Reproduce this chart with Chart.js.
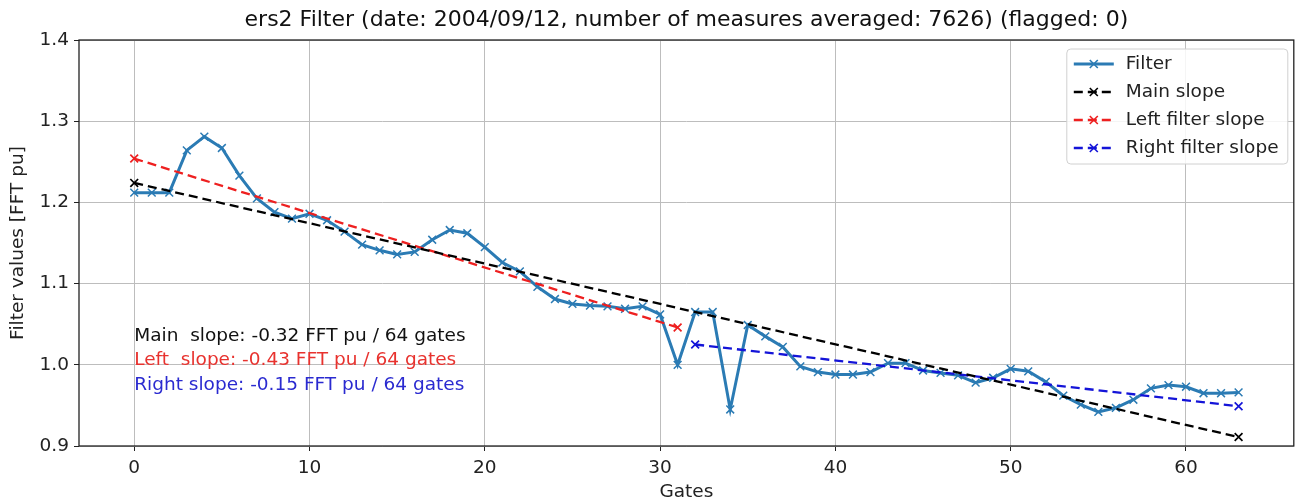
<html>
<head>
    <meta http-equiv="Content-Type" content="text/html; charset=utf-8"/>
    <title>ers2 Filter</title>
    <style>
        body { margin: 0; background: #ffffff; }
    </style>
</head>
<body>
    <canvas id="filtr" width="1301" height="504"></canvas>
</body>

<script src="https://cdn.jsdelivr.net/npm/chart.js@4/dist/chart.umd.min.js"></script>
<script type="text/javascript">

// gates 0..63
gates = [0,1,2,3,4,5,6,7,8,9,10,11,12,13,14,15,16,17,18,19,20,21,22,23,24,25,26,27,28,29,30,31,
         32,33,34,35,36,37,38,39,40,41,42,43,44,45,46,47,48,49,50,51,52,53,54,55,56,57,58,59,60,61,62,63]

filterVals = [1.212,1.212,1.212,1.264,1.281,1.267,1.233,1.205,1.188,1.180,
              1.186,1.178,1.164,1.148,1.141,1.136,1.139,1.154,1.166,1.162,
              1.145,1.126,1.115,1.096,1.081,1.075,1.073,1.072,1.069,1.072,
              1.062,1.000,1.065,1.065,0.945,1.049,1.035,1.022,0.998,0.991,
              0.988,0.988,0.991,1.002,1.002,0.993,0.990,0.987,0.978,0.984,
              0.995,0.992,0.979,0.962,0.951,0.942,0.947,0.957,0.971,0.975,
              0.973,0.965,0.965,0.966]

mainSlopeX = [0, 63]
mainSlopeY = [1.224, 0.911]
leftSlopeX = [0, 31]
leftSlopeY = [1.254, 1.046]
rightSlopeX = [32, 63]
rightSlopeY = [1.025, 0.949]

xTicks = [0, 10, 20, 30, 40, 50, 60]
yTicks = [0.9, 1.0, 1.1, 1.2, 1.3, 1.4]

slopeTexts = ["Main  slope: -0.32 FFT pu / 64 gates",
              "Left  slope: -0.43 FFT pu / 64 gates",
              "Right slope: -0.15 FFT pu / 64 gates"]

chartTitle = "ers2 Filter (date: 2004/09/12, number of measures averaged: 7626) (flagged: 0)"

FONT = "'DejaVu Sans', sans-serif"
FS = 18.5

function punkty(xs, ys)
{
    var out = []
    for (var i = 0; i < xs.length; ++i) out.push({x: xs[i], y: ys[i]})
    return out
}

// frame around plot area (like matplotlib spines)
var ramka = {
    id: 'ramka',
    afterDatasetsDraw: function(chart) {
        var a = chart.chartArea
        var ctx = chart.ctx
        ctx.save()
        ctx.strokeStyle = "#222222"
        ctx.lineWidth = 1.3
        ctx.strokeRect(a.left, a.top, a.right - a.left, a.bottom - a.top)
        ctx.restore()
    }
}

// slope texts inside the plot
var napisy = {
    id: 'napisy',
    afterDraw: function(chart) {
        var ctx = chart.ctx
        var xs = chart.scales.x, ys = chart.scales.y
        var kolory = ["#111111", "#e8322e", "#2a2ad0"]
        var wys = [1.035, 1.006, 0.975]
        ctx.save()
        ctx.font = FS + "px " + FONT
        ctx.textBaseline = "middle"
        ctx.textAlign = "left"
        for (var i = 0; i < slopeTexts.length; ++i)
        {
            ctx.fillStyle = kolory[i]
            ctx.fillText(slopeTexts[i], xs.getPixelForValue(0), ys.getPixelForValue(wys[i]))
        }
        ctx.restore()
    }
}

// legend box in upper right corner of plot area
var legenda = {
    id: 'legenda',
    afterDraw: function(chart) {
        var ctx = chart.ctx
        var a = chart.chartArea
        var ds = chart.data.datasets
        var w = 221, h = 115
        var x0 = a.right - 6 - w, y0 = a.top + 9
        ctx.save()
        ctx.fillStyle = "rgba(255,255,255,0.85)"
        ctx.strokeStyle = "#d0d0d0"
        ctx.lineWidth = 1
        ctx.beginPath()
        ctx.roundRect(x0, y0, w, h, 4)
        ctx.fill()
        ctx.stroke()
        ctx.font = FS + "px " + FONT
        ctx.textBaseline = "middle"
        for (var i = 0; i < ds.length; ++i)
        {
            var yy = y0 + 15 + i * 28
            ctx.strokeStyle = ds[i].borderColor
            ctx.lineWidth = ds[i].borderWidth
            ctx.setLineDash(ds[i].borderDash || [])
            ctx.beginPath()
            ctx.moveTo(x0 + 7, yy)
            ctx.lineTo(x0 + 47, yy)
            ctx.stroke()
            ctx.setLineDash([])
            ctx.lineWidth = 1.6
            ctx.beginPath()
            ctx.moveTo(x0 + 23, yy - 4); ctx.lineTo(x0 + 31, yy + 4)
            ctx.moveTo(x0 + 23, yy + 4); ctx.lineTo(x0 + 31, yy - 4)
            ctx.stroke()
            ctx.fillStyle = "#222222"
            ctx.fillText(ds[i].label, x0 + 59, yy)
        }
        ctx.restore()
    }
}

var ctx = document.getElementById('filtr').getContext("2d");
var myChart = new Chart(ctx, {
    type: 'line',
    data: {
        datasets: [{
            label: 'Filter',
            data: punkty(gates, filterVals),
            borderColor: '#2b7bb4',
            backgroundColor: '#2b7bb4',
            borderWidth: 3,
            pointStyle: 'crossRot',
            pointRadius: 5.5,
            pointBorderWidth: 1.5,
            fill: false,
            tension: 0,
            order: 1
        },
        {
            label: 'Main slope',
            data: punkty(mainSlopeX, mainSlopeY),
            borderColor: '#000000',
            backgroundColor: '#000000',
            borderWidth: 2.3,
            borderDash: [9, 5],
            pointStyle: 'crossRot',
            pointRadius: 5.5,
            pointBorderWidth: 1.7,
            fill: false,
            order: 0
        },
        {
            label: 'Left filter slope',
            data: punkty(leftSlopeX, leftSlopeY),
            borderColor: '#ee2020',
            backgroundColor: '#ee2020',
            borderWidth: 2.3,
            borderDash: [9, 5],
            pointStyle: 'crossRot',
            pointRadius: 5.5,
            pointBorderWidth: 1.7,
            fill: false,
            order: 0
        },
        {
            label: 'Right filter slope',
            data: punkty(rightSlopeX, rightSlopeY),
            borderColor: '#1414d8',
            backgroundColor: '#1414d8',
            borderWidth: 2.3,
            borderDash: [9, 5],
            pointStyle: 'crossRot',
            pointRadius: 5.5,
            pointBorderWidth: 1.7,
            fill: false,
            order: 0
        }]
    },
    options: {
        responsive: false,
        animation: false,
        devicePixelRatio: 1,
        layout: { padding: { left: 0, right: 6, top: 0, bottom: 0 } },
        plugins: {
            legend: { display: false },
            tooltip: { enabled: false },
            title: {
                display: true,
                text: chartTitle,
                fullSize: false,
                color: '#111111',
                font: { family: FONT, size: 22, weight: 'normal', lineHeight: 1.2 },
                padding: { top: 6.8, bottom: 6.8 }
            }
        },
        scales: {
            x: {
                type: 'linear',
                min: -3.15,
                max: 66.15,
                afterBuildTicks: function(s) { s.ticks = xTicks.map(function(v) { return {value: v} }) },
                afterFit: function(s) { s.height = 58 },
                grid: { color: '#bdbdbd', lineWidth: 1, tickColor: '#222222', tickLength: 5 },
                border: { display: false },
                ticks: { color: '#222222', font: { family: FONT, size: FS }, padding: 6, maxRotation: 0 },
                title: { display: true, text: 'Gates', color: '#222222', font: { family: FONT, size: FS }, padding: { top: 0, bottom: 1 } }
            },
            y: {
                type: 'linear',
                min: 0.9,
                max: 1.4,
                afterBuildTicks: function(s) { s.ticks = yTicks.map(function(v) { return {value: v} }) },
                afterFit: function(s) { s.width = 79 },
                grid: { color: '#bdbdbd', lineWidth: 1, tickColor: '#222222', tickLength: 5 },
                border: { display: false },
                ticks: { color: '#222222', font: { family: FONT, size: FS }, padding: 5,
                         callback: function(v) { return v.toFixed(1) } },
                title: { display: true, text: 'Filter values [FFT pu]', color: '#222222', font: { family: FONT, size: FS }, padding: { top: 7, bottom: 0 } }
            }
        }
    },
    plugins: [ramka, napisy, legenda]
});

</script>

</html>
